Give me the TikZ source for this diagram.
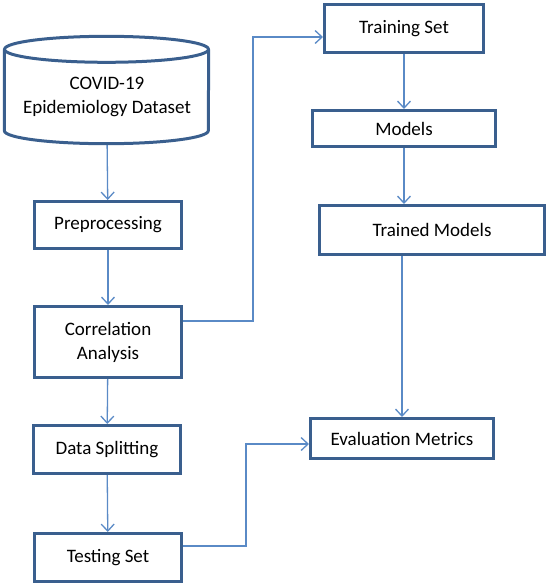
\documentclass[tikz,border=0pt]{standalone}
\usepackage{fontspec}
\setmainfont{Carlito}
\usepackage{tikz}
\usetikzlibrary{arrows.meta}
\usetikzlibrary{shapes.geometric}
\pgfdeclarelayer{edgelayer}
\pgfdeclarelayer{nodelayer}
\pgfsetlayers{edgelayer,nodelayer,main}
\definecolor{boxblue}{HTML}{3A5F8E}
\definecolor{lineblue}{HTML}{5A8AC6}
\tikzstyle{process}=[rectangle,draw=boxblue,line width=3pt,fill=white,align=center,inner sep=0pt,font=\fontsize{19}{24}\selectfont]
\tikzstyle{dataset}=[rectangle,inner sep=0pt,minimum width=204pt,minimum height=107pt]
\tikzstyle{drum}=[draw=boxblue,line width=3pt,line join=round]
\tikzstyle{caption}=[align=center,inner sep=0pt,font=\fontsize{19}{24}\selectfont]
\tikzstyle{flow}=[-{Straight Barb[length=7pt,width=13pt]},draw=lineblue,line width=1.3pt]

\begin{document}
\begin{tikzpicture}[x=1pt,y=-1pt]
	\useasboundingbox (0,0) rectangle (550,587);
	\begin{pgfonlayer}{nodelayer}
		\node [style=dataset] (0) at (106.5, 90) {};
		\draw [style=drum] ([yshift=-13pt]0.north) ellipse (102pt and 13pt);
		\draw [style=drum] ([yshift=-13pt]0.north west) -- ([yshift=13pt]0.south west) arc (180:360:102pt and 13pt) -- ([yshift=-13pt]0.north east);
		\node [style=caption] (13) at (107, 97) {COVID-19\\Epidemiology Dataset};
		\node [style=process, minimum width=147pt, minimum height=47pt] (1) at (108, 225) {Preprocessing};
		\node [style=process, minimum width=147pt, minimum height=71pt] (2) at (108, 342) {Correlation\\Analysis};
		\node [style=process, minimum width=147pt, minimum height=48pt] (3) at (107, 449.5) {Data Splitting};
		\node [style=process, minimum width=147pt, minimum height=48pt] (4) at (108, 557.5) {Testing Set};
		\node [style=process, minimum width=159pt, minimum height=48pt] (5) at (404, 28.5) {Training Set};
		\node [style=process, minimum width=183pt, minimum height=36pt] (6) at (404, 128.5) {Models};
		\node [style=process, minimum width=225pt, minimum height=49pt] (7) at (432, 230) {Trained Models};
		\node [style=process, minimum width=183pt, minimum height=40pt] (8) at (402, 438.5) {Evaluation Metrics};
		\coordinate (9) at (253, 321);
		\coordinate (10) at (253, 37);
		\coordinate (11) at (246, 546);
		\coordinate (12) at (246, 444);
	\end{pgfonlayer}
	\begin{pgfonlayer}{edgelayer}
		\draw [style=flow] (0) to (1);
		\draw [style=flow] (1) to (2);
		\draw [style=flow] (2) to (3);
		\draw [style=flow] (3) to (4);
		\draw [style=flow] (5) to (6);
		\draw [style=flow] (6) to (7.north -| 6.south);
		\draw [style=flow] (7.south -| 8.north) to (8.north);
		\draw [style=flow] (2.east |- 9) -- (9) -- (10) -- (5.west |- 10);
		\draw [style=flow] (4.east |- 11) -- (11) -- (12) -- (8.west |- 12);
	\end{pgfonlayer}
\end{tikzpicture}
\end{document}
